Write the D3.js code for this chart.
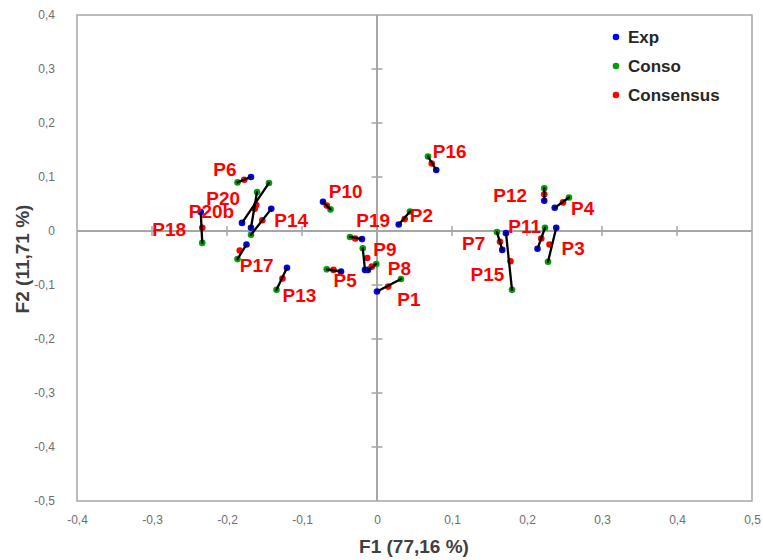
<!DOCTYPE html>
<html>
<head>
<meta charset="utf-8">
<script src="https://cdn.jsdelivr.net/npm/d3@7"></script>
<style>
  html, body { margin: 0; padding: 0; background: #fff; }
  svg { display: block; }
</style>
</head>
<body>
<svg id="chart" width="763" height="560"></svg>
<script>
// ---------- data ----------
const categories = ["P1","P2","P3","P4","P5","P6","P7","P8","P9","P10","P11","P12","P13","P14","P15","P16","P17","P18","P19","P20","P20b"];
const expX = [0.000, 0.029, 0.239, 0.237, -0.048, -0.168, 0.167, -0.012, -0.016, -0.072, 0.214, 0.223, -0.120, -0.141, 0.172, 0.079, -0.174, -0.235, -0.020, -0.180, -0.168];
const expY = [-0.112, 0.012, 0.006, 0.043, -0.075, 0.100, -0.035, -0.072, -0.072, 0.054, -0.033, 0.056, -0.068, 0.041, -0.004, 0.113, -0.025, 0.035, -0.015, 0.015, 0.006];
const consoX = [0.032, 0.044, 0.228, 0.256, -0.067, -0.186, 0.160, -0.001, -0.019, -0.062, 0.224, 0.223, -0.134, -0.168, 0.180, 0.068, -0.186, -0.233, -0.036, -0.144, -0.160];
const consoY = [-0.089, 0.036, -0.057, 0.062, -0.071, 0.090, -0.002, -0.061, -0.032, 0.040, 0.006, 0.079, -0.109, -0.007, -0.109, 0.138, -0.052, -0.022, -0.011, 0.089, 0.072];
const consensusX = [0.015, 0.037, 0.230, 0.248, -0.058, -0.177, 0.164, -0.007, -0.013, -0.067, 0.219, 0.223, -0.126, -0.153, 0.178, 0.073, -0.183, -0.233, -0.029, -0.161, -0.163];
const consensusY = [-0.103, 0.022, -0.025, 0.053, -0.072, 0.095, -0.020, -0.066, -0.050, 0.047, -0.014, 0.068, -0.088, 0.020, -0.056, 0.125, -0.036, 0.006, -0.014, 0.048, 0.041];
const seriesNames = ["Exp", "Conso", "Consensus"];
const xTicks = [-0.4, -0.3, -0.2, -0.1, 0, 0.1, 0.2, 0.3, 0.4, 0.5];
const yTicks = [-0.5, -0.4, -0.3, -0.2, -0.1, 0, 0.1, 0.2, 0.3, 0.4];
const xTitle = "F1 (77,16 %)";
const yTitle = "F2 (11,71 %)";

// ---------- layout (label offsets in px relative to Consensus point) ----------
const labelDx = [9, 5, 12, 8, 0, -31, -38, 16, 6, 2, -33, -51, 0, 12, -40, 1, 0, -50, 1, -50, -66];
const labelDy = [19, 3, 10, 13, 17, -4, 8, 8, -2, -8, -6, 8, 23, 7, 20, -6, 22, 8, -12, 0, 9];
const colors = { Exp: "#0000ff", Conso: "#00a000", Consensus: "#ff0000" };

const svg = d3.select("#chart");
const L = 77, R = 752, T = 15, B = 501;
const x = d3.scaleLinear().domain([-0.4, 0.5]).range([L, R]);
const y = d3.scaleLinear().domain([-0.5, 0.4]).range([B, T]);
const fmt = v => (Math.abs(v) < 1e-9 ? "0" : d3.format(".1f")(v).replace(".", ",").replace("−", "-"));

// frame
svg.append("rect").attr("x", L).attr("y", T).attr("width", R - L).attr("height", B - T)
  .attr("fill", "none").attr("stroke", "#a6a6a6").attr("stroke-width", 1.5);

// tick labels via d3 axes
const xAxis = svg.append("g").attr("transform", `translate(0,${B})`)
  .call(d3.axisBottom(x).tickValues(xTicks).tickFormat(fmt).tickSize(0).tickPadding(14));
const yAxis = svg.append("g").attr("transform", `translate(${L},0)`)
  .call(d3.axisLeft(y).tickValues(yTicks).tickFormat(fmt).tickSize(0).tickPadding(22));
[xAxis, yAxis].forEach(g => {
  g.select(".domain").remove();
  g.selectAll("text").attr("fill", "#6e6e6e").style("font-family", "Liberation Sans, Arial, sans-serif").style("font-size", "12px");
});

// zero axes with crossing ticks
const ax = svg.append("g").attr("stroke", "#a6a6a6");
ax.append("line").attr("x1", L).attr("x2", R).attr("y1", y(0)).attr("y2", y(0)).attr("stroke-width", 2);
ax.append("line").attr("x1", x(0)).attr("x2", x(0)).attr("y1", T).attr("y2", B).attr("stroke-width", 2);
ax.selectAll(".xt").data(xTicks.filter(t => t !== 0 && t > -0.4 && t < 0.5)).enter().append("line")
  .attr("x1", d => x(d)).attr("x2", d => x(d)).attr("y1", y(0) - 5).attr("y2", y(0) + 5).attr("stroke-width", 1.5);
ax.selectAll(".yt").data(yTicks.filter(t => t !== 0 && t > -0.5 && t < 0.4)).enter().append("line")
  .attr("y1", d => y(d)).attr("y2", d => y(d)).attr("x1", x(0) - 5.5).attr("x2", x(0) + 5.5).attr("stroke-width", 1.5);

// points
const series = [
  { name: "Exp", xs: expX, ys: expY },
  { name: "Conso", xs: consoX, ys: consoY },
  { name: "Consensus", xs: consensusX, ys: consensusY }
];
const pg = svg.append("g");
series.forEach(s => {
  pg.selectAll(null).data(categories).enter().append("circle")
    .attr("cx", (d, i) => x(s.xs[i])).attr("cy", (d, i) => y(s.ys[i]))
    .attr("r", 3.3).attr("fill", colors[s.name]);
});

// connecting lines Exp -> Conso
svg.append("g").selectAll("line").data(categories).enter().append("line")
  .attr("x1", (d, i) => x(expX[i])).attr("y1", (d, i) => y(expY[i]))
  .attr("x2", (d, i) => x(consoX[i])).attr("y2", (d, i) => y(consoY[i]))
  .attr("stroke", "#000").attr("stroke-width", 2.3).attr("stroke-linecap", "round");

// point labels
svg.append("g").selectAll("text").data(categories).enter().append("text")
  .attr("x", (d, i) => x(consensusX[i]) + labelDx[i])
  .attr("y", (d, i) => y(consensusY[i]) + labelDy[i])
  .attr("fill", "#ff0000")
  .style("font-family", "Liberation Sans, Arial, sans-serif")
  .style("font-weight", "bold").style("font-size", "19px")
  .text(d => d);

// legend
const lg = svg.append("g");
const legY = [37, 66, 95];
seriesNames.forEach((n, i) => {
  lg.append("circle").attr("cx", 616).attr("cy", legY[i]).attr("r", 3.3).attr("fill", colors[n]);
  lg.append("text").attr("x", 628).attr("y", legY[i] + 6).text(n)
    .attr("fill", "#262626")
    .style("font-family", "Liberation Sans, Arial, sans-serif")
    .style("font-weight", "bold").style("font-size", "17px");
});

// axis titles
svg.append("text").attr("x", 414).attr("y", 553).attr("text-anchor", "middle").text(xTitle)
  .attr("fill", "#404040").style("font-family", "Liberation Sans, Arial, sans-serif")
  .style("font-weight", "bold").style("font-size", "19px");
svg.append("text").attr("transform", "translate(29,259) rotate(-90)").attr("text-anchor", "middle").text(yTitle)
  .attr("fill", "#404040").style("font-family", "Liberation Sans, Arial, sans-serif")
  .style("font-weight", "bold").style("font-size", "19px");
</script>
</body>
</html>
